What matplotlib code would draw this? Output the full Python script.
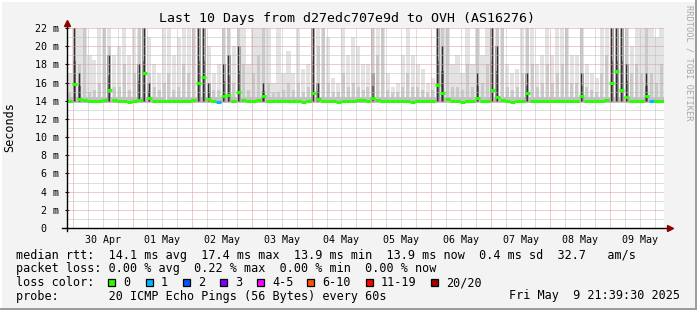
import matplotlib
matplotlib.use("Agg")
import matplotlib.pyplot as plt
from matplotlib.patches import Rectangle
from matplotlib.transforms import ScaledTranslation

# datos (bins de 2 horas, 10 dias)
smoke_max = [
    17, 22, 22, 22, 19, 18.5, 22, 22, 22, 19, 20, 22, 19, 22, 22, 22, 21, 18, 17, 22,
    22, 19, 21, 22, 22, 22, 22, 22, 20, 17, 18, 22, 22, 20, 22, 22, 18, 22, 22, 22,
    22, 16, 22, 17, 19.5, 17, 22, 17.5, 18, 22, 22, 22, 21, 16.5, 16, 22, 19, 21, 20, 18,
    18, 22, 22, 22, 17, 15.5, 16, 19, 22, 19, 18, 17.5, 16, 16.5, 22, 22, 22, 18, 19, 17,
    22, 18, 22, 19, 22, 22, 22, 22, 18, 17, 17.5, 22, 22, 22, 18, 19, 22, 19, 22, 22,
    22, 19, 19, 22, 18, 17, 16.5, 22, 22, 22, 22, 22, 22, 20, 22, 22, 22, 22, 21, 22,
]
smoke_mid = [
    14.8, 22, 18, 22, 15.0, 15.2, 16, 22, 20, 15.5, 15.5, 18, 15.2, 17, 22, 22, 17, 15.5, 15.2, 16,
    17, 15.2, 15.5, 18, 17, 22, 22, 22, 16, 15.2, 15.2, 22, 22, 16, 22, 18, 15.2, 17, 19, 22,
    16, 14.8, 15, 15.2, 16, 15.2, 16, 15, 15.5, 22, 20, 22, 16, 15, 15, 17, 15.5, 16, 15.5, 15.2,
    15.5, 22, 19, 22, 15.2, 14.8, 15, 15.5, 17, 15.5, 15.5, 15.2, 14.8, 15.2, 22, 22, 22, 15.5, 15.5, 15.2,
    18, 15.5, 22, 16, 18, 22, 22, 22, 15.5, 15.2, 15.5, 17, 22, 18, 15.5, 16, 18, 16, 17, 18,
    22, 16, 16, 22, 15.5, 15.2, 15, 17, 19, 22, 22, 22, 22, 17, 18, 17, 22, 17, 16, 18,
]
smoke_dark = [
    0, 22, 17, 0, 0, 0, 0, 0, 19, 0, 0, 0, 0, 0, 18, 22, 16, 0, 0, 0,
    0, 0, 0, 0, 0, 0, 22, 22, 16, 0, 0, 18, 19, 0, 20, 0, 0, 0, 0, 16,
    0, 0, 0, 0, 0, 0, 0, 0, 0, 22, 16, 0, 0, 0, 0, 0, 0, 0, 0, 0,
    0, 17, 0, 0, 0, 0, 0, 0, 0, 0, 0, 0, 0, 0, 22, 20, 0, 0, 0, 0,
    0, 0, 17, 0, 0, 22, 20, 0, 0, 0, 0, 0, 17, 0, 0, 0, 0, 0, 0, 0,
    0, 0, 0, 17, 0, 0, 0, 0, 0, 22, 22, 22, 18, 0, 0, 0, 17, 0, 0, 0,
]
median = [
    14.0, 15.8, 14.2, 14.1, 14.0, 14.0, 14.0, 14.1, 15.2, 14.1, 14.0, 14.0, 13.9, 14.0, 14.1, 17.0, 14.3, 14.0, 14.0, 14.0,
    14.0, 14.0, 14.0, 14.0, 14.0, 14.1, 16.0, 16.6, 14.2, 14.0, 13.9, 14.5, 14.6, 14.0, 15.0, 14.1, 14.0, 14.0, 14.1, 14.5,
    14.0, 14.0, 14.0, 14.0, 14.0, 14.0, 14.0, 13.9, 14.0, 14.9, 14.2, 14.0, 14.0, 14.0, 13.9, 14.0, 14.0, 14.0, 14.1, 14.1,
    14.0, 14.3, 14.1, 14.0, 14.0, 14.0, 14.0, 14.0, 14.0, 13.9, 14.0, 14.0, 14.0, 14.0, 15.7, 14.8, 14.2, 14.0, 14.0, 13.9,
    14.0, 14.0, 14.3, 14.0, 14.0, 15.2, 14.4, 14.1, 14.0, 13.9, 14.0, 14.0, 14.8, 14.0, 14.0, 14.0, 14.0, 14.0, 14.0, 14.0,
    14.0, 14.0, 14.0, 14.5, 14.0, 14.0, 14.0, 14.0, 14.1, 16.0, 17.3, 15.2, 14.4, 14.0, 14.0, 14.0, 14.5, 14.0, 14.0, 14.0,
]
loss_bins = {30: 1, 117: 1}
smoke_floor = 13.7

day_labels = ["30 Apr", "01 May", "02 May", "03 May", "04 May",
              "05 May", "06 May", "07 May", "08 May", "09 May"]
y_ticks = [0, 2, 4, 6, 8, 10, 12, 14, 16, 18, 20, 22]
y_labels = ["0", "2 m", "4 m", "6 m", "8 m", "10 m", "12 m", "14 m",
            "16 m", "18 m", "20 m", "22 m"]

loss_names = ["0", "1", "2", "3", "4-5", "6-10", "11-19", "20/20"]
loss_colors = ["#26ff00", "#00b8ff", "#0059ff", "#7e00ff",
               "#ff00ff", "#ff5500", "#ff0000", "#a10000"]

mono = "DejaVu Sans Mono"
W, H = 697, 310

fig = plt.figure(figsize=(W / 100, H / 100), dpi=100, facecolor="#f3f3f3")
ax = fig.add_axes([67 / W, (H - 228) / H, 597 / W, 200 / H])
ax.set_facecolor("white")

# horas desde el inicio (29 Apr 21:39:30), bins de 2 h
n = len(median)
centers = [2 * i + 1 for i in range(n)]

# humo
ax.bar(centers, [m - smoke_floor for m in smoke_max], bottom=smoke_floor,
       width=1.7, color="#e3e3e3", zorder=1)
ax.bar(centers, [m - smoke_floor for m in smoke_mid], bottom=smoke_floor,
       width=1.2, color="#cacaca", zorder=2)
ax.bar(centers, [0.7] * n, bottom=smoke_floor, width=2.0, color="#c2c2c2", zorder=2)
dx = [c for c, d in zip(centers, smoke_dark) if d > 0]
dh = [d - 13.9 for d in smoke_dark if d > 0]
ax.bar(dx, dh, bottom=13.9, width=1.5, color="#a4a4a4", zorder=3)
ax.bar(dx, [h * 0.55 for h in dh], bottom=13.9, width=0.9, color="#6a6a6a", zorder=3)
ax.bar(dx, dh, bottom=13.9, width=0.35, color="#303030", zorder=4)

# rejilla
midnight0 = 2 + 20.5 / 60
for k in range(40):
    xv = midnight0 + 6 * k
    if k % 4 == 0:
        ax.axvline(xv, color="#e09a9a", lw=0.72, ls=(0, (1, 1)), zorder=5)
    else:
        ax.axvline(xv, color="#bdbdbd", lw=0.72, ls=(0, (1, 1)), zorder=5)
for v in range(1, 23):
    if v % 2 == 0:
        ax.axhline(v, color="#e09a9a", lw=0.72, ls=(0, (1, 1)), zorder=5)
    else:
        ax.axhline(v, color="#bdbdbd", lw=0.72, ls=(0, (1, 1)), zorder=5)

# mediana coloreada por perdida
med_colors = [loss_colors[loss_bins.get(i, 0)] for i in range(n)]
ax.hlines(median, [c - 1 for c in centers], [c + 1 for c in centers],
          colors=med_colors, lw=2.2, zorder=6)

ax.set_xlim(0, 240)
ax.set_ylim(0, 22)
for s in ax.spines.values():
    s.set_visible(False)

# ejes con flechas
ax.plot([-2, 242], [0, 0], color="black", lw=1.0, clip_on=False, zorder=7)
ax.plot([0, 0], [-0.35, 22.4], color="black", lw=1.0, clip_on=False, zorder=7)
ax.plot([0], [22.6], marker="^", ms=4, color="#8b0000", clip_on=False, zorder=8)
ax.plot([242.5], [0], marker=">", ms=4, color="#8b0000", clip_on=False, zorder=8)

ax.set_xticks([midnight0 + 12 + 24 * k for k in range(10)], day_labels)
ax.set_yticks(y_ticks, y_labels)
ax.tick_params(axis="x", length=0, pad=5, labelsize=7.2, labelfontfamily=mono)
ax.tick_params(axis="y", length=3, direction="inout", width=0.8, pad=4,
               labelsize=7.2, labelfontfamily=mono)
for lab in ax.get_yticklabels():
    if lab.get_text() == "0":
        lab.set_transform(lab.get_transform()
                          + ScaledTranslation(-0.13, 0, fig.dpi_scale_trans))

# textos
fig.text(347 / W, 1 - 18.5 / H, "Last 10 Days from d27edc707e9d to OVH (AS16276)",
         ha="center", va="center", family=mono, size=9.5)
fig.text(10 / W, 1 - 127 / H, "Seconds", rotation=90, ha="center", va="center",
         family=mono, size=8.5)
fig.text(688.5 / W, 1 - 5 / H, "RRDTOOL / TOBI OETIKER", rotation=270,
         ha="center", va="top", family=mono, size=6.2, color="#a8a8a8")

lines = [
    "median rtt:  14.1 ms avg  17.4 ms max  13.9 ms min  13.9 ms now  0.4 ms sd  32.7   am/s",
    "packet loss: 0.00 % avg  0.22 % max  0.00 % min  0.00 % now",
    "loss color:",
    "probe:       20 ICMP Echo Pings (56 Bytes) every 60s",
]
for i, t in enumerate(lines):
    fig.text(16 / W, 1 - (255 + 13.8 * i) / H, t, va="center", family=mono, size=8.5)
fig.text(680 / W, 1 - 296 / H, "Fri May  9 21:39:30 2025", ha="right", va="center",
         family=mono, size=8.5)

swatch_x = [108, 146, 183, 220, 257, 307, 366, 431]
for sx, name, col in zip(swatch_x, loss_names, loss_colors):
    fig.add_artist(Rectangle((sx / W, 1 - 286 / H), 7 / W, 7 / H,
                             transform=fig.transFigure, fc=col, ec="black", lw=0.9))
    fig.text((sx + 15) / W, 1 - 282.5 / H, name, va="center", family=mono, size=8.5)

# marco 3d
fig.add_artist(Rectangle((0, 0), 1, 2 / H, transform=fig.transFigure,
                         fc="#9c9c9c", ec="none"))
fig.add_artist(Rectangle(((W - 2) / W, 0), 2 / W, 1, transform=fig.transFigure,
                         fc="#9c9c9c", ec="none"))
fig.add_artist(Rectangle((0, (H - 2) / H), (W - 2) / W, 2 / H, transform=fig.transFigure,
                         fc="#ffffff", ec="none"))
fig.add_artist(Rectangle((0, 2 / H), 2 / W, 1, transform=fig.transFigure,
                         fc="#ffffff", ec="none"))

fig.savefig("out.png", dpi=100, facecolor=fig.get_facecolor())
